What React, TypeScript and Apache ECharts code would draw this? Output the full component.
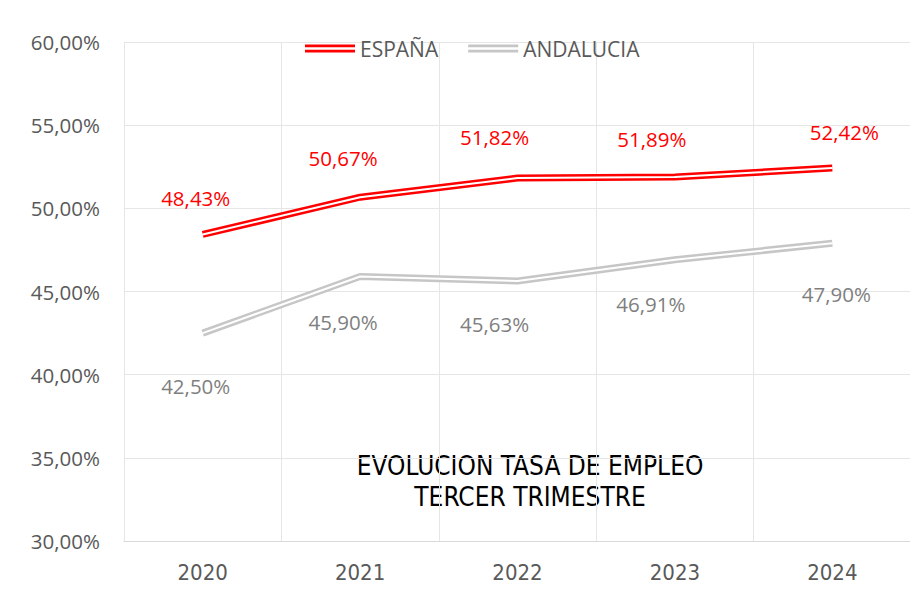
import React, { useEffect, useRef } from "react";
import * as echarts from "echarts";

const years = ["2020", "2021", "2022", "2023", "2024"];
const espana = [48.43, 50.67, 51.82, 51.89, 52.42];
const andalucia = [42.5, 45.9, 45.63, 46.91, 47.9];
const yTicks = { min: 30, max: 60, interval: 5 };

// label placement (pixels relative to the label's default spot), kept apart from the data
const espanaLabelOffsets = [[-7, -25], [-17, -28], [-23, -30], [-23, -27], [12, -25]];
const andaluciaLabelOffsets = [[-7, 42], [-17, 34], [-23, 32], [-24, 33], [4, 40]];

const fmt = (v: number) => v.toFixed(2).replace(".", ",") + "%";
const FONT = "'Open Sans', 'DejaVu Sans', sans-serif";
const NARROW = "'Liberation Sans Narrow', 'DejaVu Sans Condensed', sans-serif";
const RED = "#ff0000";
const GRAY = "#c6c6c6";
const dblIcon = "path://M0,0H50V2.6H0Z M0,5.2H50V7.8H0Z";

export default function App() {
  const ref = useRef<HTMLDivElement>(null);
  useEffect(() => {
    const chart = echarts.init(ref.current!, null, { renderer: "svg" });
    const mk = (
      name: string,
      data: number[],
      offsets: number[][],
      color: string,
      labelColor: string,
      top: boolean
    ) => [
      {
        name,
        type: "line",
        data,
        symbol: "none",
        lineStyle: { color, width: 7 },
        itemStyle: { color },
        z: 2,
      },
      {
        name: name + "_inner",
        type: "line",
        data: data.map((v, i) => ({
          value: v,
          label: { offset: offsets[i] },
        })),
        symbol: "circle",
        symbolSize: 1,
        showSymbol: true,
        lineStyle: { color: "#ffffff", width: 2 },
        itemStyle: { color: "#ffffff" },
        z: 3,
        label: {
          show: true,
          position: top ? "top" : "bottom",
          distance: 0,
          formatter: (p: any) => fmt(p.value),
          color: labelColor,
          fontFamily: FONT,
          fontSize: 20.5,
        },
      },
    ];
    chart.setOption({
      animation: false,
      backgroundColor: "#ffffff",
      grid: { left: 124, right: 7, top: 42, bottom: 65 },
      legend: {
        top: 33,
        left: 300,
        itemWidth: 50,
        itemHeight: 8,
        itemGap: 30,
        textStyle: { color: "#595959", fontFamily: FONT, fontSize: 21 },
        data: [
          { name: "ESPAÑA", icon: dblIcon, itemStyle: { color: RED } },
          { name: "ANDALUCIA", icon: dblIcon, itemStyle: { color: GRAY } },
        ],
      },
      xAxis: {
        type: "category",
        data: years,
        boundaryGap: true,
        axisLine: { show: true, lineStyle: { color: "#d9d9d9", width: 1 } },
        axisTick: { show: false },
        splitLine: { show: true, lineStyle: { color: "#e6e6e6", width: 1 } },
        axisLabel: { color: "#595959", fontFamily: NARROW, fontSize: 22, margin: 20 },
      },
      yAxis: {
        type: "value",
        min: yTicks.min,
        max: yTicks.max,
        interval: yTicks.interval,
        axisLine: { show: false },
        axisTick: { show: false },
        splitLine: { lineStyle: { color: "#e6e6e6", width: 1 } },
        axisLabel: {
          color: "#595959",
          fontFamily: FONT,
          fontSize: 20.5,
          margin: 24,
          formatter: (v: number) => fmt(v),
        },
      },
      graphic: [
        {
          type: "rect",
          shape: { x: 5, y: 0, width: 3, height: 606 },
          style: { fill: "#c0c0c0" },
          z: 100,
        },
        {
          type: "text",
          x: 530,
          y: 450,
          style: {
            text: "EVOLUCION TASA DE EMPLEO\nTERCER TRIMESTRE",
            fill: "#000000",
            font: `26px ${NARROW}`,
            align: "center",
            verticalAlign: "top",
            lineHeight: 31,
          },
        },
      ],
      series: [
        ...mk("ESPAÑA", espana, espanaLabelOffsets, RED, RED, true),
        ...mk("ANDALUCIA", andalucia, andaluciaLabelOffsets, GRAY, "#7f7f7f", false),
      ],
    });
    return () => chart.dispose();
  }, []);
  return <div ref={ref} style={{ width: 918, height: 606, margin: -8 }} />;
}
